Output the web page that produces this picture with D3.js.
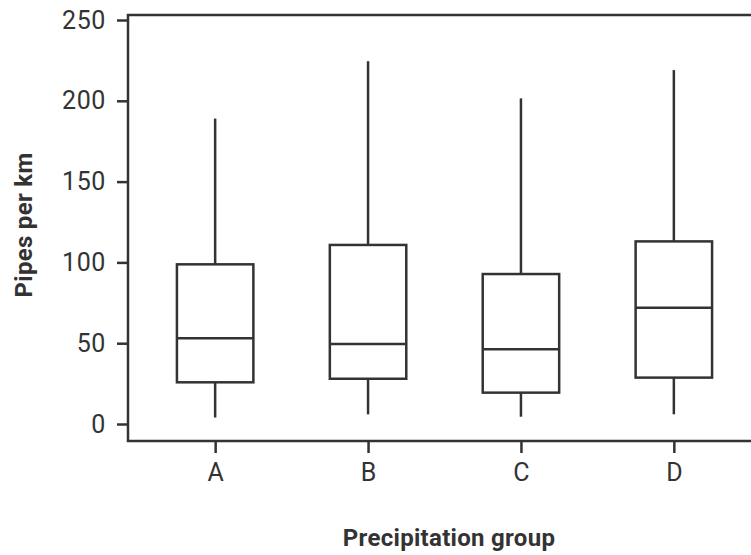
<!DOCTYPE html>
<html>
<head>
<meta charset="utf-8">
<script src="https://cdn.jsdelivr.net/npm/d3@7"></script>
<style>
  body { margin: 0; background: #fff; }
  svg { display: block; }
</style>
</head>
<body>
<svg id="chart"></svg>
<script>
// box plot values
var groups = ["A", "B", "C", "D"]
var whiskerLow = [4, 6, 4.5, 6]
var q1 = [25.8, 28, 19.4, 28.7]
var median = [53, 49.5, 46.2, 72]
var q3 = [98.8, 110.8, 92.8, 113]
var whiskerHigh = [189, 224.5, 201.5, 219]
var yTicks = [0, 50, 100, 150, 200, 250]

var W = 751, H = 555
var frame = {left: 128, top: 15, right: 761, bottom: 441}
var ink = "#333"
var font = "Roboto, 'Liberation Sans', sans-serif"

var svg = d3.select("#chart")
    .attr("width", W)
    .attr("height", H)

var x = d3.scalePoint()
    .domain(groups)
    .range([frame.left, frame.right])
    .padding(0.57)

var y = d3.scaleLinear()
    .domain([0, 250])
    .range([424, 20])

var boxW = x.step() * 0.5

var data = groups.map(function (g, i) {
  return {g: g, lo: whiskerLow[i], q1: q1[i], med: median[i], q3: q3[i], hi: whiskerHigh[i]}
})

// frame (top line runs off the right edge)
svg.append("path")
  .attr("d", "M" + frame.right + "," + frame.top + "H" + frame.left + "V" + frame.bottom + "H" + frame.right)
  .attr("fill", "none")
  .attr("stroke", ink)
  .attr("stroke-width", 2.5)

// y axis
var yAxis = svg.append("g")
  .attr("transform", "translate(" + frame.left + ",0)")
  .call(d3.axisLeft(y).tickValues(yTicks).tickSize(11).tickPadding(11))
yAxis.select(".domain").remove()
yAxis.selectAll("line").attr("stroke", ink).attr("stroke-width", 2.5)
yAxis.selectAll("text")
  .attr("fill", ink)
  .attr("font-family", font)
  .attr("font-size", "25px")
  .attr("letter-spacing", "0.6px")

// x axis
var xAxis = svg.append("g")
  .attr("transform", "translate(0," + frame.bottom + ")")
  .call(d3.axisBottom(x).tickSize(12).tickPadding(10))
xAxis.select(".domain").remove()
xAxis.selectAll("line").attr("stroke", ink).attr("stroke-width", 2.5)
xAxis.selectAll("text")
  .attr("fill", ink)
  .attr("font-family", font)
  .attr("font-size", "25px")

// boxes
var box = svg.append("g").selectAll("g")
  .data(data)
  .join("g")
  .attr("stroke", ink)
  .attr("stroke-width", 2.5)
  .attr("fill", "none")

box.append("line")
  .attr("x1", function (d) { return x(d.g) })
  .attr("x2", function (d) { return x(d.g) })
  .attr("y1", function (d) { return y(d.hi) })
  .attr("y2", function (d) { return y(d.q3) })

box.append("line")
  .attr("x1", function (d) { return x(d.g) })
  .attr("x2", function (d) { return x(d.g) })
  .attr("y1", function (d) { return y(d.q1) })
  .attr("y2", function (d) { return y(d.lo) })

box.append("rect")
  .attr("x", function (d) { return x(d.g) - boxW / 2 })
  .attr("width", boxW)
  .attr("y", function (d) { return y(d.q3) })
  .attr("height", function (d) { return y(d.q1) - y(d.q3) })

box.append("line")
  .attr("x1", function (d) { return x(d.g) - boxW / 2 })
  .attr("x2", function (d) { return x(d.g) + boxW / 2 })
  .attr("y1", function (d) { return y(d.med) })
  .attr("y2", function (d) { return y(d.med) })

// axis titles
svg.append("text")
  .attr("transform", "translate(32,225) rotate(-90)")
  .attr("text-anchor", "middle")
  .attr("font-family", font)
  .attr("font-weight", "bold")
  .attr("font-size", "24px")
  .attr("letter-spacing", "0.3px")
  .attr("fill", ink)
  .text("Pipes per km")

svg.append("text")
  .attr("x", 449)
  .attr("y", 546)
  .attr("text-anchor", "middle")
  .attr("font-family", font)
  .attr("font-weight", "bold")
  .attr("font-size", "24px")
  .attr("letter-spacing", "0.3px")
  .attr("fill", ink)
  .text("Precipitation group")
</script>
</body>
</html>
